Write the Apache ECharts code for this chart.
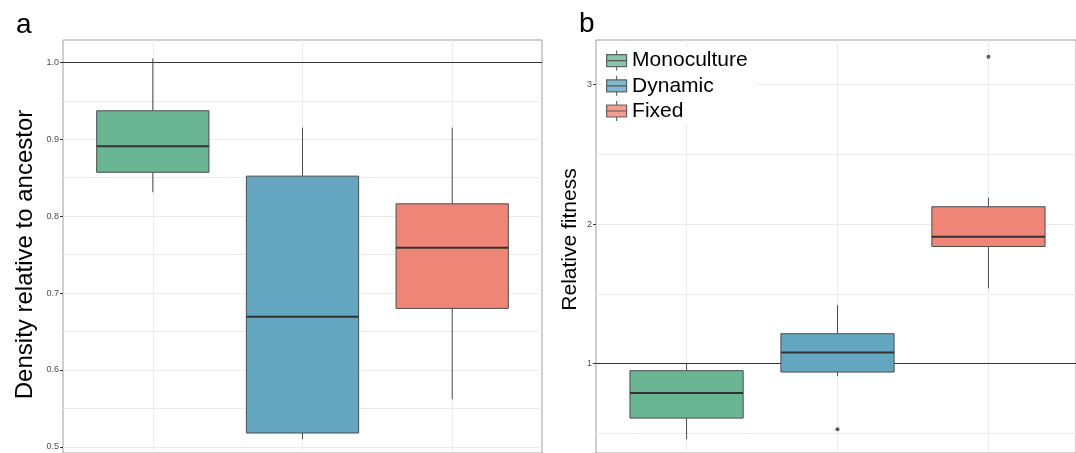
<!DOCTYPE html>
<html>
<head>
<meta charset="utf-8">
<script src="https://cdn.jsdelivr.net/npm/echarts@6/dist/echarts.min.js"></script>
<style>
  html, body { margin: 0; padding: 0; background: #fff; }
  #main { width: 1076px; height: 453px; }
</style>
</head>
<body>
<div id="main"></div>
<script>
// groups and colours
const groups = ['Monoculture', 'Dynamic', 'Fixed'];
const groupColors = ['#6ab593', '#64a5bf', '#ee8576'];

// panel a: [min, Q1, median, Q3, max] per group
const densityBox = [
    [0.831, 0.857, 0.891, 0.937, 1.005],
    [0.510, 0.518, 0.669, 0.852, 0.915],
    [0.562, 0.680, 0.759, 0.816, 0.915]
];
// panel b
const fitnessBox = [
    [0.46, 0.61, 0.79, 0.95, 1.00],
    [0.91, 0.94, 1.08, 1.215, 1.42],
    [1.54, 1.84, 1.91, 2.125, 2.19]
];
const fitnessOutliers = [['Dynamic', 0.53], ['Fixed', 3.2]];

// tick labels
const densityTicks = [0.5, 0.6, 0.7, 0.8, 0.9, 1.0];
const fitnessTicks = [1, 2, 3];

const densityRange = [0.492, 1.029];
const fitnessRange = [0.36, 3.32];
const refLine = 1;

const FONT = 'Liberation Sans, Arial, sans-serif';
const gridColor = '#ebebeb';
const boxHalf = 0.375;

let myChart = echarts.init(document.getElementById('main'));

// x positions 1..n like ggplot discrete scale
function boxRows(arr) {
    return arr.map(function (v, i) { return [i + 1].concat(v); });
}

function renderBox(params, api) {
    let x = api.value(0);
    let pMin = api.coord([x, api.value(1)]);
    let pQ1 = api.coord([x, api.value(2)]);
    let pMed = api.coord([x, api.value(3)]);
    let pQ3 = api.coord([x, api.value(4)]);
    let pMax = api.coord([x, api.value(5)]);
    let left = api.coord([x - boxHalf, api.value(3)])[0];
    let right = api.coord([x + boxHalf, api.value(3)])[0];
    let edge = '#4d4d4d';
    return {
        type: 'group',
        children: [
            { type: 'line', shape: { x1: pMax[0], y1: pMax[1], x2: pQ3[0], y2: pQ3[1] }, style: { stroke: edge, lineWidth: 1 } },
            { type: 'line', shape: { x1: pMin[0], y1: pMin[1], x2: pQ1[0], y2: pQ1[1] }, style: { stroke: edge, lineWidth: 1 } },
            { type: 'rect', shape: { x: left, y: pQ3[1], width: right - left, height: pQ1[1] - pQ3[1] },
              style: { fill: groupColors[params.dataIndex], stroke: edge, lineWidth: 1 } },
            { type: 'line', shape: { x1: left, y1: pMed[1], x2: right, y2: pMed[1] }, style: { stroke: '#333', lineWidth: 2 } }
        ]
    };
}

function yAxisFor(grid, range, split, ticks, fmt, name, nameSize, nameGap, namePad) {
    return {
        gridIndex: grid,
        type: 'value',
        min: range[0], max: range[1],
        splitNumber: split,
        name: name,
        nameLocation: 'middle',
        nameGap: nameGap,
        nameTextStyle: { fontSize: nameSize, fontFamily: FONT, color: '#000', padding: namePad },
        axisLine: { show: false },
        axisTick: { show: true, length: 3, customValues: ticks, lineStyle: { color: '#333' } },
        axisLabel: { fontSize: 9, color: '#4d4d4d', fontFamily: FONT, margin: 4, customValues: ticks, formatter: fmt },
        splitLine: { show: true, lineStyle: { color: gridColor, width: 1 } },
        minorTick: { show: false, splitNumber: 2 },
        minorSplitLine: { show: true, lineStyle: { color: gridColor, width: 1 } }
    };
}

let fmtA = function (v) {
    return Math.abs(v * 10 - Math.round(v * 10)) < 1e-6 ? Number(v).toFixed(1) : '';
};
let fmtB = function (v) {
    return Math.abs(v - Math.round(v)) < 1e-6 ? String(Math.round(v)) : '';
};

function helperLines(xi, yi) {
    return [
        {
            type: 'line', xAxisIndex: xi, yAxisIndex: yi, data: [], z: 1, silent: true,
            markLine: { silent: true, z: 1, symbol: 'none', label: { show: false },
                lineStyle: { color: gridColor, width: 1, type: 'solid' },
                data: groups.map(function (g, i) { return { xAxis: i + 1 }; }) }
        },
        {
            type: 'line', xAxisIndex: xi, yAxisIndex: yi, data: [], z: 1, silent: true,
            markLine: { silent: true, z: 2, symbol: 'none', label: { show: false },
                lineStyle: { color: '#333', width: 1, type: 'solid' }, data: [{ yAxis: refLine }] }
        }
    ];
}

let option = {
    animation: false,
    backgroundColor: '#fff',
    graphic: [
        { type: 'text', left: 16, top: 11, style: { text: 'a', font: '28px Liberation Sans', fill: '#000' } },
        { type: 'text', left: 579, top: 10, style: { text: 'b', font: '28px Liberation Sans', fill: '#000' } }
    ],
    legend: {
        data: groups.map(function (g, i) {
            return { name: g, itemStyle: { color: groupColors[i] } };
        }),
        orient: 'vertical',
        left: 602, top: 48,
        padding: [2, 8, 2, 4],
        itemGap: 4,
        itemWidth: 21, itemHeight: 20,
        icon: 'path://M0,4H20V16H0Z M10,0V4 M10,16V20 M0,10H20',
        itemStyle: { borderColor: '#444', borderWidth: 1.2 },
        textStyle: { fontSize: 21, fontFamily: FONT, color: '#000' },
        backgroundColor: '#fff',
        selectedMode: false
    },
    grid: [
        { left: 63, top: 40, width: 479, bottom: -1, show: true, borderColor: '#9e9e9e', borderWidth: 1, backgroundColor: 'transparent' },
        { left: 596, top: 40, right: 0, bottom: -1, show: true, borderColor: '#9e9e9e', borderWidth: 1, backgroundColor: 'transparent' }
    ],
    xAxis: [
        { gridIndex: 0, type: 'value', min: 0.4, max: 3.6, show: false },
        // panel b runs past the right edge of the figure
        { gridIndex: 1, type: 'value', min: 0.4, max: 3.58, show: false }
    ],
    yAxis: [
        yAxisFor(0, densityRange, 5, densityTicks, fmtA, 'Density relative to ancestor', 24, 26, [0, 16, 0, 0]),
        yAxisFor(1, fitnessRange, 3, fitnessTicks, fmtB, 'Relative fitness', 21, 15, [0, 0, 0, 14])
    ],
    series: helperLines(0, 0).concat(helperLines(1, 1), [
        {
            type: 'custom', xAxisIndex: 0, yAxisIndex: 0, z: 3, silent: true,
            encode: { x: 0, y: [1, 2, 3, 4, 5] },
            data: boxRows(densityBox),
            renderItem: renderBox
        },
        {
            type: 'custom', xAxisIndex: 1, yAxisIndex: 1, z: 3, silent: true,
            encode: { x: 0, y: [1, 2, 3, 4, 5] },
            data: boxRows(fitnessBox),
            renderItem: renderBox
        },
        {
            type: 'scatter', xAxisIndex: 1, yAxisIndex: 1, z: 5, silent: true,
            symbolSize: 4,
            itemStyle: { color: '#333' },
            data: fitnessOutliers.map(function (o) { return [groups.indexOf(o[0]) + 1, o[1]]; })
        },
        // legend entries
        { name: 'Monoculture', type: 'scatter', xAxisIndex: 1, yAxisIndex: 1, data: [], itemStyle: { color: groupColors[0] } },
        { name: 'Dynamic', type: 'scatter', xAxisIndex: 1, yAxisIndex: 1, data: [], itemStyle: { color: groupColors[1] } },
        { name: 'Fixed', type: 'scatter', xAxisIndex: 1, yAxisIndex: 1, data: [], itemStyle: { color: groupColors[2] } }
    ])
};
myChart.setOption(option);
</script>
</body>
</html>
